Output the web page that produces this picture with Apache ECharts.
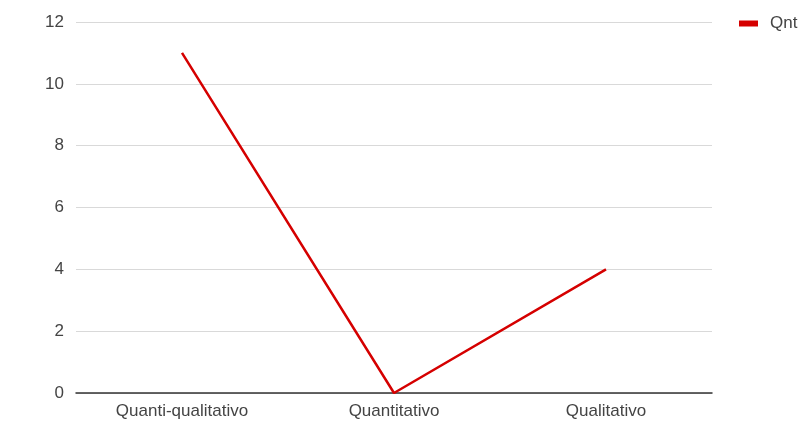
<!DOCTYPE html>
<html>
<head>
<meta charset="utf-8">
<script src="https://cdn.jsdelivr.net/npm/echarts@6/dist/echarts.min.js"></script>
<style>
  html, body { margin: 0; padding: 0; background: #fff; }
  #chart { width: 801px; height: 440px; }
</style>
</head>
<body>
<div id="chart"></div>
<script>
// Categories and counts per research approach
const categories = ['Quanti-qualitativo', 'Quantitativo', 'Qualitativo'];
const qnt = [11, 0, 4];
const seriesName = 'Qnt';

const chart = echarts.init(document.getElementById('chart'), null, { renderer: 'canvas' });

chart.setOption({
  animation: false,
  textStyle: { fontFamily: '"Liberation Sans", Arial, sans-serif' },
  grid: { left: 76, right: 89, top: 22, bottom: 47, containLabel: false },
  legend: {
    data: [seriesName],
    left: 734,
    top: 10,
    itemWidth: 19,
    itemHeight: 6,
    itemGap: 10,
    icon: 'rect',
    textStyle: { color: '#444', fontSize: 17, padding: [0, 0, 0, 7] }
  },
  xAxis: {
    type: 'category',
    data: categories,
    boundaryGap: true,
    axisLine: { lineStyle: { color: '#333', width: 1.5 } },
    axisTick: { show: false },
    axisLabel: { color: '#444', fontSize: 17, margin: 10 }
  },
  yAxis: {
    type: 'value',
    min: 0,
    max: 12,
    interval: 2,
    axisLine: { show: false },
    axisTick: { show: false },
    axisLabel: { color: '#444', fontSize: 17, margin: 12 },
    splitLine: { lineStyle: { color: '#d9d9d9', width: 1.2 } }
  },
  series: [{
    name: seriesName,
    type: 'line',
    data: qnt,
    symbol: 'none',
    lineStyle: { color: '#d50000', width: 2.5 },
    itemStyle: { color: '#d50000' }
  }]
});
</script>
</body>
</html>
